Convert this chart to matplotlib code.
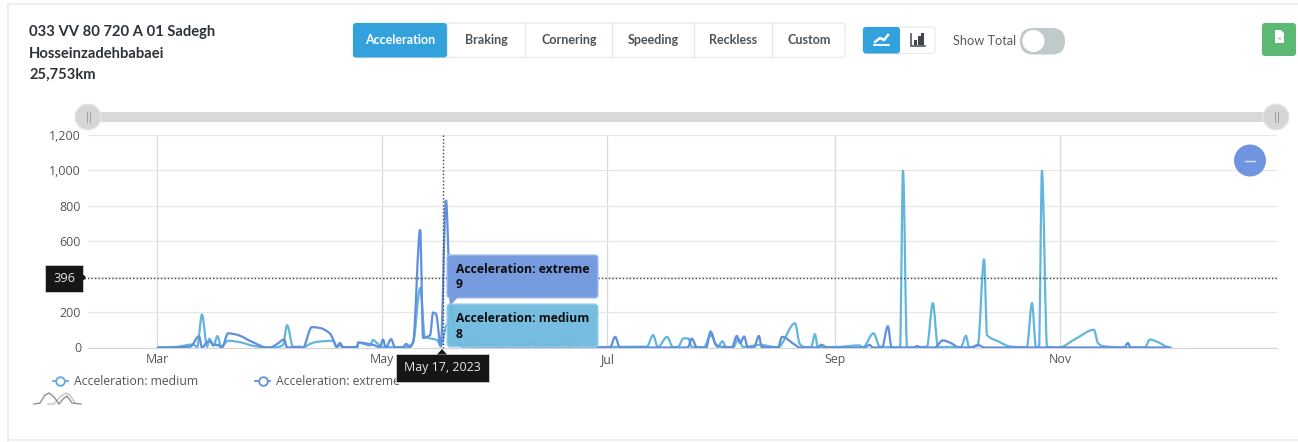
import numpy as np
import matplotlib
matplotlib.use("Agg")
import matplotlib.pyplot as plt
import matplotlib.dates as mdates
from matplotlib.lines import Line2D
from matplotlib.path import Path
from matplotlib.patches import Circle, FancyBboxPatch, PathPatch, Polygon, Rectangle

W, H = 1298, 442
plt.rcParams["font.family"] = ["Open Sans", "DejaVu Sans"]

# days since 1 Mar 2023 and event counts (10 per row)
medium_days = [0, 4.9, 9.8, 10.9, 12.2, 13.6, 14.2, 15.3, 16.4, 17.4,
               19.3, 22.5, 26, 29.8, 32.6, 34.2, 35.3, 36.9, 38.8, 39.6,
               41.5, 43.4, 47.7, 48.8, 49.6, 50.5, 54.3, 54.6, 57.8, 58.6,
               59.7, 61, 67.8, 69.5, 71.4, 72.7, 76, 77, 78.7, 80,
               83, 86.3, 87.6, 96.6, 98.5, 99.3, 101.7, 103.9, 106.6, 108.5,
               110.1, 112, 113.4, 114.8, 119.4, 132.9, 134.6, 135.9, 138.4, 140,
               141.3, 142.9, 144.2, 145.1, 148.4, 150.2, 152.1, 153.4, 154.4, 156.4,
               157.7, 159, 163.9, 166.7, 168.5, 173.1, 174.4, 175.8, 177.5, 178.5,
               179.3, 184.2, 190.6, 191.5, 194.4, 196.1, 198.9, 201.6, 202.4, 203.5,
               208.9, 210.5, 211.9, 218.1, 219.5, 220.3, 222.7, 224.4, 225.2, 228.2,
               231.7, 236, 237.4, 238.5, 239.3, 240.1, 241.5, 244.7, 249.3, 254.2,
               255.3, 256.6, 262.1, 268, 269.4, 271.6, 274.8, 275.4]
medium = [0, 3, 17, 3, 186, 5, 49, 10, 64, 5,
          38, 30, 10, 0, 2, 15, 126, 3, 5, 0,
          20, 32, 38, 5, 12, 2, 2, 27, 12, 42,
          25, 2, 3, 30, 336, 60, 42, 8, 130, 60,
          5, 45, 20, 5, 18, 2, 25, 5, 15, 5,
          50, 5, 35, 2, 3, 5, 70, 2, 60, 2,
          3, 52, 50, 3, 2, 70, 3, 35, 2, 2,
          50, 3, 15, 5, 2, 137, 20, 2, 2, 75,
          2, 3, 12, 0, 80, 5, 2, 0, 1000, 0,
          5, 250, 3, 3, 66, 2, 10, 500, 70, 35,
          5, 2, 250, 0, 0, 1000, 5, 0, 50, 100,
          25, 8, 0, 0, 45, 30, 0, 0]

extreme_days = [0, 9, 11.4, 12.2, 13.6, 14.4, 15.2, 16.3, 17.6, 19.3,
                21.7, 26, 29.8, 30.7, 32.6, 34.5, 35.3, 38, 39.6, 42,
                44.2, 46.9, 47.7, 48.8, 49.6, 50.5, 54.3, 54.6, 58.6, 60.5,
                61.3, 62.1, 63.5, 64.6, 66.7, 67.6, 68.6, 69.5, 71.4, 72.2,
                74.1, 74.9, 75.7, 77, 78.4, 79.5, 80.8, 83, 119.4, 122.9,
                124.3, 125.6, 144, 145.1, 146.5, 149, 150.2, 151.7, 153, 156,
                157.3, 158.2, 159.3, 160.3, 162, 163.3, 164.1, 168.5, 169.6, 173.1,
                174.4, 179, 180.3, 181.8, 192, 193.3, 194.2, 196.7, 198.3, 199.3,
                205.3, 206.2, 207.5, 211, 213.2, 215.4, 217.6, 221, 222.7, 224.5,
                262.4, 263.4, 264.2, 274.8]
extreme = [0, 5, 64, 0, 30, 35, 15, 15, 0, 80,
           72, 30, 0, 0, 20, 45, 0, 2, 0, 115,
           110, 80, 50, 2, 25, 2, 3, 28, 15, 2,
           45, 0, 47, 0, 0, 20, 3, 30, 665, 55,
           70, 197, 190, 9, 833, 300, 100, 5, 0, 0,
           60, 0, 0, 50, 0, 0, 90, 15, 5, 2,
           65, 25, 62, 0, 2, 65, 2, 2, 60, 15,
           0, 0, 15, 0, 0, 15, 0, 0, 120, 0,
           0, 8, 0, 0, 40, 25, 0, 0, 15, 0,
           0, 25, 0, 0]

month_ticks = ["2023-03-01", "2023-05-01", "2023-07-01", "2023-09-01", "2023-11-01"]
month_labels = ["Mar", "May", "Jul", "Sep", "Nov"]
value_ticks = [0, 200, 400, 600, 800, 1000, 1200]
tabs = ["Acceleration", "Braking", "Cornering", "Speeding", "Reckless", "Custom"]
tab_edges = [353, 447, 525, 612, 694, 772, 845]

MEDIUM = "#62b6dd"
EXTREME = "#5f8fdd"
start = mdates.date2num(np.datetime64("2023-03-01"))


def smooth_path(days, values):
    # the reference draws a rounded line: monotone bezier through the points
    x, y = start + np.array(days, dtype=float), np.array(values, dtype=float)
    dx = np.diff(x)
    slope = np.diff(y) / dx
    tangent = np.zeros(len(x))
    for i in range(1, len(x) - 1):
        if slope[i - 1] * slope[i] > 0:
            tangent[i] = 2 * slope[i - 1] * slope[i] / (slope[i - 1] + slope[i])
    verts, codes = [(x[0], y[0])], [Path.MOVETO]
    for i in range(len(dx)):
        verts += [(x[i] + dx[i] / 3, y[i] + tangent[i] * dx[i] / 3),
                  (x[i + 1] - dx[i] / 3, y[i + 1] - tangent[i + 1] * dx[i] / 3),
                  (x[i + 1], y[i + 1])]
        codes += [Path.CURVE4] * 3
    return Path(verts, codes)


fig = plt.figure(figsize=(W / 100, H / 100), dpi=100, facecolor="white")

# chart area, placed by pixels
left, right, top, bottom = 88, 1277, 135, 347.5
ax = fig.add_axes([left / W, 1 - bottom / H, (right - left) / W, (bottom - top) / H])
ax.add_patch(PathPatch(smooth_path(medium_days, medium), fc="none", ec=MEDIUM, lw=1.6, zorder=3))
ax.add_patch(PathPatch(smooth_path(extreme_days, extreme), fc="none", ec=EXTREME, lw=1.6, zorder=4))

ax.set_ylim(0, 1200)
px_per_day = (1060 - 157) / 245
ax.set_xlim(start - (157 - left) / px_per_day, start + (right - 157) / px_per_day)
ax.set_xticks(mdates.date2num(np.array(month_ticks, dtype="datetime64[D]")))
ax.set_xticklabels(month_labels)
ax.set_yticks(value_ticks)
ax.set_yticklabels([f"{v:,}" for v in value_ticks])
ax.grid(True, axis="y", color="#e6e6e6", lw=0.9)
ax.grid(True, axis="x", color="#d9d9d9", lw=0.9)
ax.set_axisbelow(True)
ax.tick_params(length=0, labelsize=8.9, labelcolor="#555555", pad=5)
ax.tick_params(axis="x", pad=4)
for name, spine in ax.spines.items():
    spine.set_visible(name == "bottom")
    spine.set_color("#d4d4d4")

handles = [
    Line2D([], [], color="#5ea6e6", lw=1.3, marker="o", ms=6.2, mfc="white", mew=1.3),
    Line2D([], [], color=EXTREME, lw=1.3, marker="o", ms=6.2, mfc="white", mew=1.3),
]
ax.legend(handles, ["Acceleration: medium", "Acceleration: extreme"], ncols=2, frameon=False, fontsize=8.8,
          labelcolor="#555555", handlelength=1.2, handletextpad=0.5, columnspacing=4.7,
          loc="upper left", bbox_to_anchor=((53 - left) / (right - left), -0.13), borderaxespad=0, borderpad=0)

# page furniture on top, in picture pixels
ui = fig.add_axes([0, 0, 1, 1], facecolor="none")
ui.set_xlim(0, W)
ui.set_ylim(H, 0)
ui.axis("off")


def box(x0, y0, x1, y1, color, edge="none", r=3, alpha=1.0, z=5):
    ui.add_patch(FancyBboxPatch((x0 + r, y0 + r), x1 - x0 - 2 * r, y1 - y0 - 2 * r,
                                boxstyle=f"round,pad={r},rounding_size={r}", fc=color, ec=edge, lw=0.9,
                                alpha=alpha, zorder=z))


# card outline
ui.plot([1298, 8, 8], [4, 4, 442], color="#eceef1", lw=1.6, zorder=1)
ui.plot([8, 1298], [440, 440], color="#eceef1", lw=1.2, zorder=1)

# title
for y, line in zip([32, 54, 75], ["033 VV 80 720 A 01 Sadegh", "Hosseinzadehbabaei", "25,753km"]):
    ui.text(29, y, line, fontsize=10.6, fontweight="bold", color="#2c3238", va="center", family="Lato")

# tab buttons
box(tab_edges[0], 23, tab_edges[-1], 57.5, "white", "#e6eaee")
box(tab_edges[0], 23, tab_edges[1], 57.5, "#33a1db")
for i, tab in enumerate(tabs):
    ui.text((tab_edges[i] + tab_edges[i + 1]) / 2 + 0.5, 40, tab, ha="center", va="center", fontsize=9,
            fontweight="bold", color="white" if i == 0 else "#4b5359", family="Lato", zorder=6)
    if i:
        ui.plot([tab_edges[i]] * 2, [23, 57.5], color="#e6eaee", lw=0.9, zorder=6)

# line / bar switch
box(863, 27, 935, 53.5, "white", "#e6eaee")
box(863, 27, 900, 53.5, "#33a1db")
ui.plot([875, 880, 884, 888], [42, 38, 40, 35], color="white", lw=1.8, zorder=6)
ui.plot([874, 889], [45, 45], color="white", lw=1.3, zorder=6)
ui.plot([911, 911, 925], [34, 46, 46], color="#3e464c", lw=1.1, zorder=6)
for bx, by in zip([914, 918, 921], [40, 36, 33]):
    ui.add_patch(Rectangle((bx, by), 2.6, 44.5 - by, fc="#3e464c", zorder=6))

ui.text(953, 41, "Show Total", fontsize=9.2, color="#555c62", va="center", family="Lato")
box(1020, 28, 1065, 54.5, "#c1c9cb", r=13)
ui.add_patch(Circle((1033.5, 41), 11, fc="white", zorder=6))

# export button
box(1262, 23, 1296, 56, "#5cb974")
ui.add_patch(Polygon([(1275, 30), (1281, 30), (1284, 33), (1284, 43), (1275, 43)], fc="white", zorder=6))
ui.text(1279.5, 38.5, "x", fontsize=4.5, color="#5cb974", ha="center", va="center", zorder=7)

# range slider
ui.add_patch(Rectangle((88, 112), 1188, 10, fc="#d9d9d9", zorder=2))
for cx in [88, 1276]:
    ui.add_patch(Circle((cx, 117), 13, fc="#d6d6d6", ec="#e8e8e8", lw=0.8, zorder=3))
    ui.plot([cx - 1.5, cx - 1.5], [112, 122], color="#a0a0a0", lw=0.7, zorder=4)
    ui.plot([cx + 1.5, cx + 1.5], [112, 122], color="#a0a0a0", lw=0.7, zorder=4)

# minus button
ui.add_patch(Circle((1250, 160.5), 16, fc="#6f95e0", zorder=3))
ui.plot([1245, 1255], [160.5, 160.5], color="#d8e2f6", lw=1, zorder=4)

# crosshair
ui.plot([442.5, 442.5], [135, 348], color="#444444", lw=1, ls=(0, (1, 1.5)), zorder=3)
ui.plot([84, right], [277.5, 277.5], color="#444444", lw=1, ls=(0, (1, 1.5)), zorder=3)

# value tag
ui.add_patch(Rectangle((45, 264.5), 38, 27, fc="#161616", ec="#dddddd", lw=0.5, zorder=6))
ui.add_patch(Circle((83, 277.5), 2.5, fc="#161616", zorder=6))
ui.text(64, 278, "396", color="#e8e8e8", fontsize=9.2, ha="center", va="center", zorder=7)

# hover tooltips
box(447, 255, 598, 298, "#769cdf", "#a5bfec", r=3, z=6)
ui.add_patch(Polygon([(450, 297), (458, 297), (451, 305)], fc="#769cdf", zorder=6))
box(447, 304, 598, 347, "#6fbadf", "#9fd2ea", r=3, alpha=0.95, z=6)
for y, label, count in [(269.5, "Acceleration: extreme", "9"), (318.5, "Acceleration: medium", "8")]:
    ui.text(456, y, label, fontsize=8.75, fontweight="bold", color="#0c0c0c", va="center", zorder=7)
    ui.text(456, y + 15.5, count, fontsize=8.75, fontweight="bold", color="#0c0c0c", va="center", zorder=7)

# date tooltip
ui.add_patch(Rectangle((396, 354), 93, 28, fc="#161616", ec="#dddddd", lw=0.5, zorder=6))
ui.add_patch(Polygon([(437, 354.5), (442, 349), (447, 354.5)], fc="#161616", zorder=6))
ui.text(442.5, 368, "May 17, 2023", color="#e8e8e8", fontsize=8.9, ha="center", va="center", zorder=7)

# overview icon
ui.plot([34, 40, 45, 49, 54, 59, 63, 67, 72, 81], [404, 403, 395, 393, 397, 404, 399, 396, 403, 404],
        color="#8f8f8f", lw=1, zorder=3)
ui.plot([48, 54, 60, 66, 70, 75], [404, 404, 397, 393, 395, 403], color="#c4c4c4", lw=1, zorder=2)

fig.savefig("out.png", dpi=100)
